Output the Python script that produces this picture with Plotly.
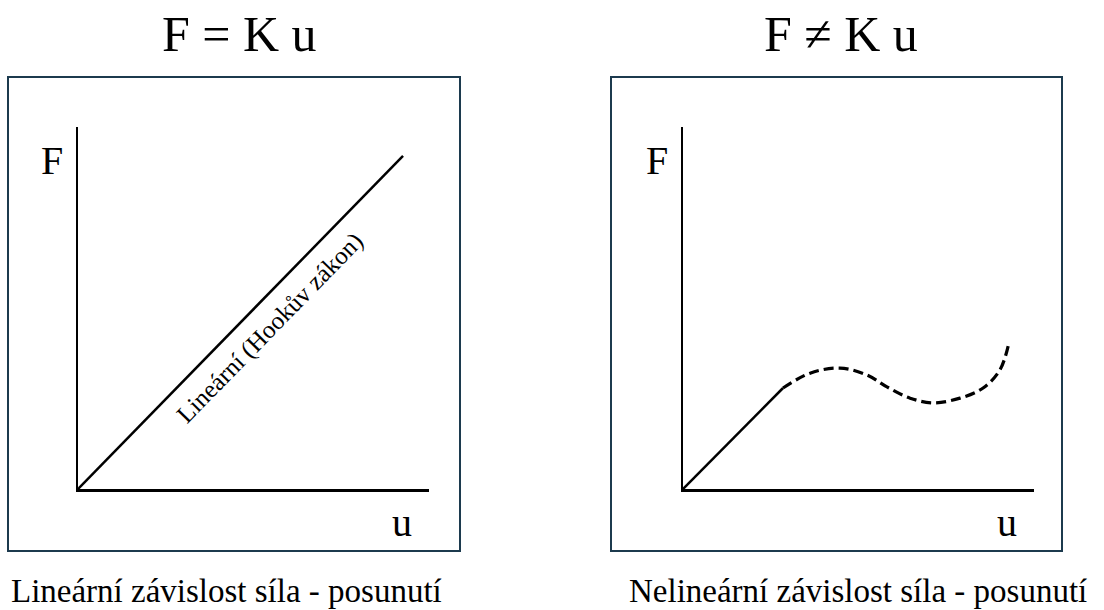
import plotly.graph_objects as go

# ---- data (u, F in arbitrary units 0..10) ----
lin_u = [0, 9.26]
lin_F = [0, 9.20]

nl_solid_u = [0, 2.85]
nl_solid_F = [0, 2.79]

nl_dash_u = [2.85, 3.62, 4.47, 5.24, 5.81, 6.47, 7.12, 7.89, 8.55, 9.03, 9.29]
nl_dash_F = [2.79, 3.20, 3.34, 3.15, 2.82, 2.51, 2.38, 2.51, 2.79, 3.29, 4.06]

titles = ["F = K u", "F \u2260 K u"]
captions = ["Lineární závislost síla - posunutí", "Nelineární závislost síla - posunutí"]
hooke_label = "Lineární (Hookův zákon)"
axis_F = "F"
axis_u = "u"

W, H = 1104, 610
FONT = "Liberation Serif, Times New Roman, serif"
BOX = "#1c3a4e"

def px(x):
    return x / W

def py(y):
    return 1 - y / H

fig = go.Figure()

line = dict(color="black", width=2.5)
fig.add_trace(go.Scatter(x=lin_u, y=lin_F, mode="lines", line=line, xaxis="x", yaxis="y",
                         showlegend=False, hoverinfo="skip"))
fig.add_trace(go.Scatter(x=nl_solid_u, y=nl_solid_F, mode="lines", line=line, xaxis="x2", yaxis="y2",
                         showlegend=False, hoverinfo="skip"))
fig.add_trace(go.Scatter(x=nl_dash_u, y=nl_dash_F, mode="lines",
                         line=dict(color="black", width=3.2, dash="10px,5px", shape="spline", smoothing=1.0),
                         xaxis="x2", yaxis="y2", showlegend=False, hoverinfo="skip"))

ax_common = dict(range=[0, 10], showgrid=False, zeroline=False, showticklabels=False, ticks="",
                 showline=True, linecolor="black", linewidth=2.5, mirror=False, fixedrange=True)

yd = [py(489), py(127)]
fig.update_layout(
    width=W, height=H,
    margin=dict(l=0, r=0, t=0, b=0),
    paper_bgcolor="white", plot_bgcolor="rgba(0,0,0,0)",
    xaxis=dict(domain=[px(78), px(429)], anchor="y", **ax_common),
    yaxis=dict(domain=yd, anchor="x", **ax_common),
    xaxis2=dict(domain=[px(683), px(1034)], anchor="y2", **ax_common),
    yaxis2=dict(domain=yd, anchor="x2", **ax_common),
)

# frames
for x0, x1 in [(8, 460), (611, 1062)]:
    fig.add_shape(type="rect", xref="paper", yref="paper",
                  x0=px(x0), x1=px(x1), y0=py(551), y1=py(77),
                  line=dict(color=BOX, width=2), fillcolor="rgba(0,0,0,0)", layer="below")

def ann(text, x, y, size, **kw):
    fig.add_annotation(text=text, x=px(x), y=py(y), xref="paper", yref="paper",
                       showarrow=False, xanchor="center", yanchor="middle",
                       font=dict(family=FONT, size=size, color="black"), **kw)

ann(titles[0], 239, 34, 50)
ann(titles[1], 841, 34, 50)
ann(captions[0], 226, 591, 33)
ann(captions[1], 858, 591, 33)
ann(axis_F, 52, 160, 40)
ann(axis_u, 402, 522, 40)
ann(axis_F, 657, 160, 40)
ann(axis_u, 1007, 522, 40)

fig.add_annotation(text=hooke_label, x=5.47, y=4.45, xref="x", yref="y", showarrow=False,
                   textangle=-45.7, font=dict(family=FONT, size=25, color="black"))

fig.write_html("out.html", config={"displayModeBar": False, "staticPlot": True},
               post_script="document.body.style.margin='0px';document.body.style.overflow='hidden';")
